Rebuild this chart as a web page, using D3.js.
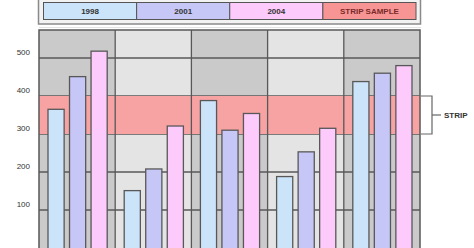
<!DOCTYPE html>
<html>
<head>
<meta charset="utf-8">
<script src="https://cdn.jsdelivr.net/npm/d3@7"></script>
<style>
  html, body { margin: 0; padding: 0; background: #fff; }
  svg { display: block; font-family: "Liberation Sans", Arial, sans-serif; }
</style>
</head>
<body>
<svg id="chart" width="474" height="248"></svg>
<script>
// Data
const categories = ["A", "B", "C", "D", "E"];
const seriesNames = ["1998", "2001", "2004"];
const values1998 = [365, 151, 388, 188, 438];
const values2001 = [451, 208, 310, 253, 460];
const values2004 = [518, 321, 354, 315, 480];
const yTicks = [100, 200, 300, 400, 500];
const stripRange = [300, 400];
const stripLabel = "STRIP";
const legendLabels = ["1998", "2001", "2004", "STRIP SAMPLE"];

// Colors
const seriesColors = ["#cbe4fa", "#c6c6f7", "#fccafb"];
const stripColor = "#f8a3a3";
const bgDark = "#cacaca";
const bgLight = "#e4e4e4";
const lineColor = "#585858";

const svg = d3.select("#chart");
const plot = {left: 39, right: 420, top: 30, bottom: 248};

const x = d3.scaleBand().domain(categories).range([plot.left, plot.right]);
const xInner = d3.scaleBand().domain(seriesNames)
    .range([9, x.bandwidth() - 8]).paddingInner(0.25);
const y = d3.scaleLinear().domain([0, 500]).range([plot.bottom, 58]);

const series = [values1998, values2001, values2004];

// Legend
const legend = svg.append("g");
legend.append("rect")
    .attr("x", 38.5).attr("y", -4).attr("width", 382).attr("height", 28)
    .attr("fill", "#f2f2f2").attr("stroke", "#8a8a8a").attr("stroke-width", 1.5);
legend.append("line")
    .attr("x1", 39).attr("x2", 421).attr("y1", 27.5).attr("y2", 27.5)
    .attr("stroke", "#e2e2e2").attr("stroke-width", 1);

const legendX = d3.scaleBand().domain(legendLabels).range([43.5, 416]);
const legendColors = seriesColors.concat(["#f79595"]);
legend.selectAll(".cell")
    .data(legendLabels)
    .enter().append("rect")
    .attr("x", d => legendX(d))
    .attr("y", 2.5)
    .attr("width", legendX.bandwidth())
    .attr("height", 17)
    .attr("fill", (d, i) => legendColors[i])
    .attr("stroke", "#555").attr("stroke-width", 1);
legend.selectAll(".ltext")
    .data(legendLabels)
    .enter().append("text")
    .attr("x", d => legendX(d) + legendX.bandwidth() / 2)
    .attr("y", 14)
    .attr("text-anchor", "middle")
    .attr("font-size", 8)
    .attr("font-weight", "bold")
    .attr("fill", (d, i) => i === 3 ? "#7a2a2a" : "#333")
    .text(d => d);

// Plot backgrounds
svg.selectAll(".bg")
    .data(categories)
    .enter().append("rect")
    .attr("x", d => x(d))
    .attr("y", plot.top)
    .attr("width", x.bandwidth())
    .attr("height", plot.bottom - plot.top)
    .attr("fill", (d, i) => i % 2 === 0 ? bgDark : bgLight);

// Gridlines
svg.selectAll(".grid")
    .data(yTicks)
    .enter().append("line")
    .attr("x1", plot.left).attr("x2", plot.right)
    .attr("y1", d => y(d)).attr("y2", d => y(d))
    .attr("stroke", lineColor).attr("stroke-width", 1.3);

// Strip band
svg.append("rect")
    .attr("x", plot.left)
    .attr("y", y(stripRange[1]))
    .attr("width", plot.right - plot.left)
    .attr("height", y(stripRange[0]) - y(stripRange[1]))
    .attr("fill", stripColor);

// Category dividers
svg.selectAll(".vline")
    .data(categories.slice(1))
    .enter().append("line")
    .attr("x1", d => x(d)).attr("x2", d => x(d))
    .attr("y1", plot.top).attr("y2", plot.bottom)
    .attr("stroke", lineColor).attr("stroke-width", 1.3);

// Plot frame
svg.append("path")
    .attr("d", `M${plot.left},${plot.bottom}V${plot.top}H${plot.right}V${plot.bottom}`)
    .attr("fill", "none").attr("stroke", lineColor).attr("stroke-width", 1.5);

// Bars
series.forEach((vals, si) => {
    svg.selectAll(".bar" + si)
        .data(vals)
        .enter().append("rect")
        .attr("x", (d, i) => x(categories[i]) + xInner(seriesNames[si]))
        .attr("y", d => y(d))
        .attr("width", xInner.bandwidth())
        .attr("height", d => y(0) - y(d) + 2)
        .attr("fill", seriesColors[si])
        .attr("stroke", lineColor).attr("stroke-width", 1.3);
});

// Y axis labels
svg.selectAll(".ylab")
    .data(yTicks)
    .enter().append("text")
    .attr("x", 30)
    .attr("y", d => y(d) - 3)
    .attr("text-anchor", "end")
    .attr("font-size", 8)
    .attr("fill", "#333")
    .text(d => d);

// Strip bracket
const bx = plot.right + 1;
svg.append("path")
    .attr("d", `M${bx},${y(stripRange[1])}H${bx + 11}V${y(stripRange[0])}H${bx}`)
    .attr("fill", "#fff").attr("stroke", "#666").attr("stroke-width", 1.2);
svg.append("line")
    .attr("x1", bx + 11).attr("x2", bx + 20)
    .attr("y1", y(d3.mean(stripRange))).attr("y2", y(d3.mean(stripRange)))
    .attr("stroke", "#666").attr("stroke-width", 1.2);
svg.append("text")
    .attr("x", bx + 23)
    .attr("y", y(d3.mean(stripRange)) + 3)
    .attr("font-size", 8)
    .attr("font-weight", "bold")
    .attr("fill", "#333")
    .text(stripLabel);
</script>
</body>
</html>
